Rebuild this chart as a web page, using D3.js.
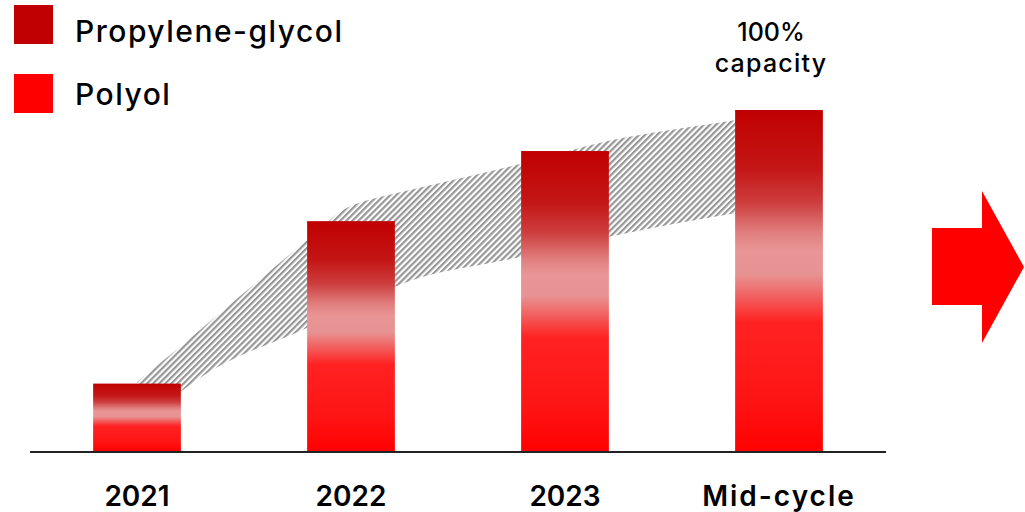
<!DOCTYPE html>
<html>
<head>
<meta charset="utf-8">
<script src="https://cdn.jsdelivr.net/npm/d3@7"></script>
<style>
  html, body { margin: 0; padding: 0; background: #ffffff; }
  svg { display: block; }
</style>
</head>
<body>
<svg id="chart" width="1025" height="512"></svg>
<script>
// ---- data ----
const categories = ["2021", "2022", "2023", "Mid-cycle"];
const values = [20, 67.5, 88, 100];           // % of mid-cycle (100% capacity)
const seriesNames = ["Propylene-glycol", "Polyol"];
const seriesColors = ["#c00000", "#ff0000"];
// ribbon (hatched range) read at fractional category positions
const bandPos    = [0, 0.2, 0.3, 0.8, 0.95, 1.14, 1.2, 1.79, 2.2, 2.8, 3.0];
const bandTop    = [20.5, 30.7, 36.0, 62.3, 70.2, 74.6, 75.5, 84.2, 90.9, 97.1, 99.2];
const bandBottom = [12, 17.5, 21.9, 36.5, 41.0, 46.5, 48.2, 57.0, 62.9, 69.9, 72.0];
const capacityLabel = ["100%", "capacity"];

// ---- layout ----
const W = 1025, H = 512;
const axisLeft = 30, axisRight = 886, baseY = 452, topY = 110;
const FONT = "Inter, 'Noto Sans', sans-serif";
const svg = d3.select("#chart");
const defs = svg.append("defs");

const x = d3.scaleBand().domain(categories).range([axisLeft, axisRight])
  .paddingInner(0.59).paddingOuter(0.295);
const y = d3.scaleLinear().domain([0, 100]).range([baseY, topY]);
const step = x.step();
const xPos = p => x(categories[0]) + x.bandwidth() / 2 + p * step;

// gradient for bars
const grad = defs.append("linearGradient").attr("id", "barGrad")
  .attr("x1", 0).attr("y1", 0).attr("x2", 0).attr("y2", 1);
[[0, "#c00000"], [0.17, "#c41616"], [0.27, "#cd3d3d"], [0.36, "#e17f7f"],
 [0.41, "#e99595"], [0.48, "#e89393"], [0.54, "#f16464"], [0.62, "#ff2222"],
 [0.85, "#fe1414"], [1, "#ff0000"]].forEach(([o, c]) =>
  grad.append("stop").attr("offset", o).attr("stop-color", c));

// hatch pattern
const pat = defs.append("pattern").attr("id", "hatch")
  .attr("patternUnits", "userSpaceOnUse").attr("width", 4.3).attr("height", 4.3)
  .attr("patternTransform", "rotate(45)");
pat.append("rect").attr("width", 2.2).attr("height", 4.3).attr("fill", "#979797");

// ribbon
const bandData = bandPos.map((p, i) => ({ p, t: bandTop[i], b: bandBottom[i] }));
const area = d3.area().curve(d3.curveMonotoneX)
  .x(d => xPos(d.p)).y0(d => y(d.b)).y1(d => y(d.t));
svg.append("path").datum(bandData).attr("d", area).attr("fill", "url(#hatch)");

// bars
svg.append("g").selectAll("rect").data(categories).join("rect")
  .attr("x", d => x(d)).attr("width", x.bandwidth())
  .attr("y", (d, i) => y(values[i])).attr("height", (d, i) => y(0) - y(values[i]))
  .attr("fill", "url(#barGrad)");

// axis
const axis = svg.append("g").attr("transform", `translate(0,${baseY})`)
  .call(d3.axisBottom(x).tickSize(0).tickPadding(34));
axis.select(".domain").attr("stroke", "#222").attr("stroke-width", 2)
  .attr("d", `M${axisLeft},0H${axisRight}`);
axis.selectAll(".tick text").attr("font-family", FONT)
  .attr("font-size", 28).attr("font-weight", 600).attr("fill", "#000")
  .attr("letter-spacing", d => /^\d+$/.test(d) ? 0 : 2);

// capacity label
const last = categories[categories.length - 1];
const cx = x(last) + x.bandwidth() / 2 - 8;
svg.append("text").attr("text-anchor", "middle")
  .attr("font-family", FONT).attr("font-size", 25)
  .attr("font-weight", 500).attr("fill", "#000")
  .selectAll("tspan").data(capacityLabel).join("tspan")
  .attr("x", cx).attr("y", (d, i) => 41 + i * 31)
  .attr("letter-spacing", (d, i) => i === 0 ? 0 : 1.2).text(d => d);

// legend
const lg = svg.append("g");
seriesNames.forEach((n, i) => {
  lg.append("rect").attr("x", 14).attr("y", 5 + i * 69).attr("width", 39).attr("height", 39)
    .attr("fill", seriesColors[i]);
  lg.append("text").attr("x", 75).attr("y", 42 + i * 63)
    .attr("font-family", FONT).attr("font-size", 30).attr("letter-spacing", 1.5)
    .attr("font-weight", 500).attr("fill", "#000").text(n);
});

// arrow (decoration on the right)
const ax0 = axisRight + 46, axm = axisRight + 96, ax1 = W - 1, ayc = 267;
svg.append("path")
  .attr("d", `M${ax0},${ayc - 39}H${axm}V${ayc - 76}L${ax1},${ayc}L${axm},${ayc + 76}V${ayc + 38}H${ax0}Z`)
  .attr("fill", "#ff0000");
</script>
</body>
</html>
